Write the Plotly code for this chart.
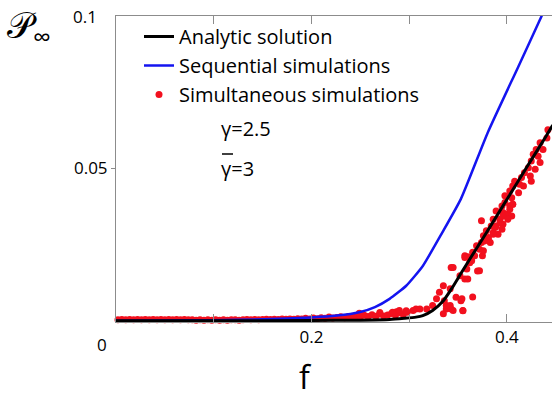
import plotly.graph_objects as go

# Analytic solution
f_analytic = [0, 0.1, 0.2, 0.25, 0.28, 0.295, 0.307, 0.314, 0.324, 0.335, 0.343, 0.352, 0.362, 0.377,
              0.40, 0.42, 0.4406, 0.447]
p_analytic = [0, 0, 0.0001, 0.0002, 0.0004, 0.0008, 0.0012, 0.0017, 0.0034, 0.0066, 0.0103, 0.0150, 0.0202,
              0.0278, 0.0398, 0.0502, 0.0608, 0.0642]

# Sequential simulations
f_seq = [0, 0.05, 0.1, 0.15, 0.2, 0.226, 0.249, 0.265, 0.28, 0.297, 0.314, 0.334, 0.353, 0.3805, 0.4116,
         0.4356, 0.447]
p_seq = [0, 0.0001, 0.0002, 0.0005, 0.0011, 0.0017, 0.0028, 0.0045, 0.0072, 0.0115, 0.018, 0.029, 0.040,
         0.0618, 0.0833, 0.100, 0.108]

# Simultaneous simulations: flat region
f_sim_low = [0.002, 0.006, 0.010, 0.014, 0.018, 0.022, 0.026, 0.030, 0.034, 0.038, 0.042, 0.046, 0.050,
             0.054, 0.058, 0.062, 0.066, 0.070, 0.074, 0.078, 0.082, 0.086, 0.090, 0.094, 0.098, 0.102,
             0.106, 0.110, 0.114, 0.118, 0.122, 0.126, 0.130, 0.134, 0.138, 0.142, 0.146, 0.150, 0.154,
             0.158, 0.162, 0.166, 0.170, 0.174, 0.178, 0.182, 0.186, 0.190, 0.194, 0.198, 0.202, 0.206,
             0.210, 0.214, 0.218, 0.222, 0.226, 0.230, 0.234, 0.238, 0.242, 0.246, 0.250, 0.254, 0.258,
             0.262, 0.266, 0.270, 0.274, 0.278, 0.282, 0.286, 0.290, 0.294, 0.298]
p_sim_low = [0.0003, 0.0004, 0.0003, 0.0004, 0.0003, 0.0004, 0.0003, 0.0004, 0.0003, 0.0004, 0.0003, 0.0004,
             0.0003, 0.0004, 0.0003, 0.0004, 0.0003, 0.0004, 0.0003, 0.0003, 0.0002, 0.0003, 0.0002, 0.0003,
             0.0002, 0.0003, 0.0002, 0.0003, 0.0002, 0.0003, 0.0003, 0.0002, 0.0003, 0.0004, 0.0003, 0.0004,
             0.0003, 0.0004, 0.0005, 0.0004, 0.0005, 0.0004, 0.0006, 0.0005, 0.0006, 0.0005, 0.0007, 0.0006,
             0.0008, 0.0006, 0.0009, 0.0007, 0.0010, 0.0008, 0.0012, 0.0009, 0.0011, 0.0013, 0.0010, 0.0014,
             0.0012, 0.0016, 0.0013, 0.0018, 0.0014, 0.0020, 0.0015, 0.0022, 0.0016, 0.0019, 0.0024, 0.0018,
             0.0026, 0.0021, 0.0028]

# Simultaneous simulations: rising region
f_sim_high = [0.249, 0.270, 0.287, 0.297, 0.307, 0.318, 0.324, 0.328, 0.338, 0.342, 0.335, 0.345, 0.336,
              0.283, 0.290, 0.304, 0.311, 0.331, 0.335, 0.342, 0.343, 0.348, 0.353, 0.355, 0.343, 0.338,
              0.357, 0.360, 0.370, 0.362, 0.359, 0.352, 0.357, 0.365, 0.372, 0.375, 0.369, 0.374, 0.381,
              0.374, 0.345, 0.365, 0.372, 0.360, 0.355, 0.354, 0.357, 0.364, 0.367, 0.386, 0.381, 0.383,
              0.389, 0.393, 0.396, 0.403, 0.406, 0.401, 0.396, 0.391, 0.377, 0.376,
              0.442, 0.441, 0.434, 0.437, 0.430, 0.432, 0.427, 0.425, 0.434, 0.422, 0.429, 0.418, 0.424,
              0.415, 0.425, 0.413, 0.408, 0.406, 0.417, 0.412, 0.403, 0.405, 0.398, 0.398, 0.406, 0.395,
              0.403, 0.389, 0.405, 0.396, 0.386, 0.401, 0.393, 0.384, 0.379, 0.395, 0.376, 0.386, 0.388]
p_sim_high = [0.0025, 0.0027, 0.0030, 0.0033, 0.0039, 0.0039, 0.0050, 0.0072, 0.0039, 0.0050, 0.0023, 0.0034,
              0.0066, 0.0028, 0.0034, 0.0034, 0.0039, 0.0094, 0.0115, 0.0105, 0.0039, 0.0077, 0.0066, 0.0033,
              0.0175, 0.0050, 0.0213, 0.0210, 0.0163, 0.0190, 0.0170, 0.0148, 0.0137, 0.0225, 0.0235, 0.0213,
              0.0246, 0.0257, 0.0268, 0.0328, 0.0175, 0.0078, 0.0164, 0.0137, 0.0034, 0.0072, 0.0208, 0.0197,
              0.0213, 0.0290, 0.0273, 0.0257, 0.0311, 0.0333, 0.0355, 0.0377, 0.0382, 0.0350, 0.0317, 0.0284,
              0.0262, 0.0230,
              0.0627, 0.0600, 0.0584, 0.0562, 0.0562, 0.0540, 0.0546, 0.0524, 0.0519, 0.0502, 0.0497, 0.0486,
              0.0475, 0.0470, 0.0458, 0.0448, 0.0458, 0.0442, 0.0442, 0.0420, 0.0426, 0.0404, 0.0410, 0.0388,
              0.0382, 0.0377, 0.0366, 0.0360, 0.0344, 0.0344, 0.0333, 0.0333, 0.0322, 0.0311, 0.0295, 0.0300,
              0.0279, 0.0284, 0.0306]

x_ticks = [0.2, 0.4]
x_ticktext = ["0.2", "0.4"]
x_minor_ticks = [0.1, 0.3]
y_ticks = [0.05]
y_ticktext = ["0.05"]

FONT = "Open Sans"
TXT = "#000"
AXIS_COLOR = "#8c8c8c"
W, H = 552, 399
ML, MR, MT, MB = 116, 0, 16, 77
PW, PH = W - ML - MR, H - MT - MB


def px(x):
    return (x - ML) / PW


def py(y):
    return (H - MB - y) / PH


fig = go.Figure()
fig.add_trace(go.Scatter(x=f_sim_low + f_sim_high, y=p_sim_low + p_sim_high, mode="markers",
                         name="Simultaneous simulations",
                         marker=dict(color="#f2101e", size=7, line=dict(width=0)),
                         cliponaxis=False, legendrank=3))
fig.add_trace(go.Scatter(x=f_seq, y=p_seq, mode="lines", name="Sequential simulations",
                         line=dict(color="#1414f0", width=2.5, shape="spline", smoothing=0.5),
                         legendrank=2))
fig.add_trace(go.Scatter(x=f_analytic, y=p_analytic, mode="lines", name="Analytic solution",
                         line=dict(color="black", width=3, shape="spline", smoothing=0.6),
                         legendrank=1))

fig.update_layout(
    width=W, height=H,
    margin=dict(l=ML, r=MR, t=MT, b=MB),
    plot_bgcolor="white", paper_bgcolor="white",
    font=dict(family=FONT, size=17, color=TXT),
    showlegend=True,
    legend=dict(x=px(139), y=py(17), xanchor="left", yanchor="top", bgcolor="rgba(0,0,0,0)",
                font=dict(size=20, family=FONT, color=TXT), itemwidth=30, tracegroupgap=0),
    xaxis=dict(range=[0, 0.4462], tickvals=x_ticks, ticktext=x_ticktext, ticks="inside", ticklen=8,
               tickcolor=AXIS_COLOR, showline=True, linecolor=AXIS_COLOR, linewidth=1, mirror="ticks",
               minor=dict(tickvals=x_minor_ticks, ticks="inside", ticklen=8, tickcolor=AXIS_COLOR,
                          showgrid=False),
               showgrid=False, zeroline=False, tickfont=dict(size=17, family=FONT, color=TXT)),
    yaxis=dict(range=[-0.0004, 0.1], tickvals=y_ticks, ticktext=y_ticktext, ticks="outside", ticklen=4,
               tickcolor=AXIS_COLOR, showline=True, linecolor=AXIS_COLOR, linewidth=1, mirror=False,
               showgrid=False, zeroline=False, tickfont=dict(size=17, family=FONT, color=TXT)),
)

# free-standing labels, positioned in pixel coordinates of the page
labels = [
    ("0.1", 98, 17, "right", 17),
    ("0", 108, 344, "right", 17),
    ("f", 305, 376, "center", 32),
    ("𝒫<sub>∞</sub>", 6, 27, "left", 36),
    ("γ=2.5", 220, 128, "left", 20),
    ("γ=3", 220, 168, "left", 20),
]
for text, x, y, anchor, size in labels:
    fig.add_annotation(text=text, x=px(x), y=py(y), xref="paper", yref="paper", showarrow=False,
                       xanchor=anchor, yanchor="middle", borderpad=0,
                       font=dict(size=size, family=FONT, color=TXT))

# bar over the second gamma
fig.add_shape(type="line", xref="paper", yref="paper", x0=px(222), x1=px(233), y0=py(154), y1=py(154),
              line=dict(color=TXT, width=1.5))

fig.write_html("out.html")
